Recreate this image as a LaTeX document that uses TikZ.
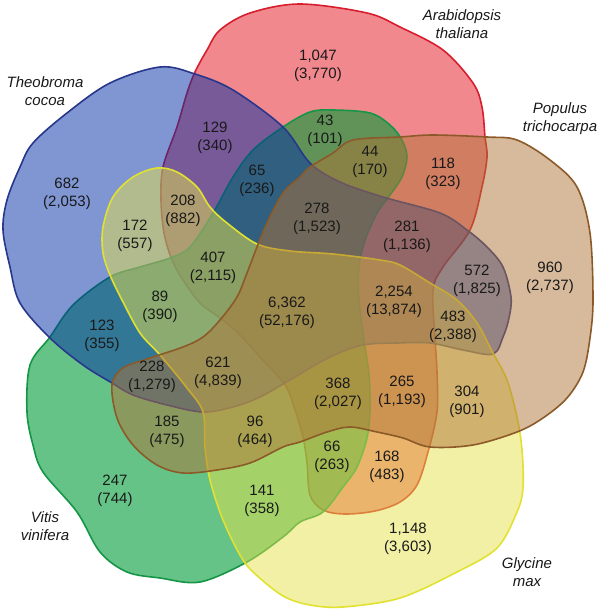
\documentclass[tikz,border=0pt]{standalone}
\usepackage{fontspec}
\setmainfont{Liberation Sans}
\definecolor{arafill}{RGB}{228,18,30}
\definecolor{araline}{RGB}{215,30,45}
\definecolor{theofill}{RGB}{0,45,165}
\definecolor{theoline}{RGB}{40,55,140}
\definecolor{vitfill}{RGB}{0,155,55}
\definecolor{vitline}{RGB}{20,150,70}
\definecolor{glyfill}{RGB}{229,225,75}
\definecolor{glyline}{RGB}{225,225,50}
\definecolor{popfill}{RGB}{175,115,55}
\definecolor{popline}{RGB}{140,90,40}
\begin{document}
\begin{tikzpicture}[x=1pt, y=-1pt,
  setshape/.style={line width=1.6pt, line join=round},
  count/.style={align=center, text=black!90, font=\fontsize{15}{18}\selectfont},
  species/.style={align=center, text=black!90, font=\fontsize{15}{18}\selectfont\itshape}]
  \useasboundingbox (0,0) rectangle (600,610);

  % Sets (bottom to top)
  \draw[setshape, draw=araline, fill=arafill, fill opacity=0.5] plot[smooth cycle, tension=0.55] coordinates {
    (163,167) (177,127) (187,93) (195,72) (207,50) (220,30) (250,13) (300,4) (367,13) (400,27) (443,50) (473,83) (482,107) (485,137) (487,157) (482,187) (470,230) (443,267) (433,290) (435,338) (437,372) (437,412) (428,452) (417,485) (400,502) (375,511) (345,514) (323,510) (310,495) (307,463) (303,437) (295,410) (285,385) (260,357) (237,332) (220,318) (200,303) (183,280) (172,260) (164,233) (161,200)};
  \draw[setshape, draw=vitline, fill=vitfill, fill opacity=0.6] plot[smooth cycle, tension=0.55] coordinates {
    (283,127) (310,112) (333,110) (370,113) (390,125) (402,140) (407,157) (402,177) (390,195) (377,213) (365,240) (359,267) (359,300) (364,340) (369,375) (370,410) (367,438) (357,467) (343,487) (323,512) (300,522) (283,537) (247,562) (200,582) (160,578) (127,572) (100,552) (77,512) (43,472) (33,445) (27,412) (30,365) (50,337) (73,305) (110,277) (140,267) (170,258) (190,247) (213,213) (233,177) (253,150)};
  \draw[setshape, draw=theoline, fill=theofill, fill opacity=0.5] plot[smooth cycle, tension=0.55] coordinates {
    (160,67) (195,74) (233,90) (283,127) (310,163) (340,182) (383,197) (440,213) (467,230) (487,247) (503,267) (511,297) (509,318) (503,337) (493,354) (463,350) (430,343) (397,343) (363,345) (330,357) (290,380) (260,397) (233,407) (203,412) (167,405) (133,395) (112,383) (83,365) (50,338) (20,303) (10,267) (3,230) (7,200) (20,167) (33,143) (67,113) (110,83)};
  \draw[setshape, draw=glyline, fill=glyfill, fill opacity=0.5] plot[smooth cycle, tension=0.55] coordinates {
    (157,168) (177,172) (197,187) (210,207) (227,223) (257,244) (290,251) (333,254) (380,260) (400,265) (430,283) (457,300) (477,323) (493,353) (507,380) (517,417) (522,450) (523,488) (517,512) (497,548) (457,572) (400,598) (343,607) (310,605) (285,597) (262,580) (243,560) (223,520) (210,480) (205,447) (203,412) (187,388) (160,355) (140,333) (122,300) (110,275) (103,253) (103,227) (113,197) (133,177)};
  \draw[setshape, draw=popline, fill=popfill, fill opacity=0.5] plot[smooth cycle, tension=0.55] coordinates {
    (257,247) (267,223) (283,193) (300,177) (310,167) (333,153) (353,140) (400,137) (433,135) (487,137) (517,140) (550,160) (577,187) (590,233) (593,300) (590,338) (583,372) (567,398) (543,418) (517,432) (473,445) (430,447) (403,438) (377,432) (350,427) (327,432) (300,442) (283,447) (250,463) (217,470) (183,473) (157,465) (133,445) (117,418) (112,385) (123,368) (150,358) (183,347) (203,337) (220,320) (237,297) (247,273)};

  % Species names
  \node[species] (ara) at (462,24) {Arabidopsis\\thaliana};
  \node[species] (theo) at (45,91) {Theobroma\\cocoa};
  \node[species] (pop) at (560,119) {Populus\\trichocarpa};
  \node[species] (vit) at (45,526) {Vitis\\vinifera};
  \node[species] (gly) at (527,572) {Glycine\\max};

  % Counts
  \node[count] (A) at (318,66) {1,047\\(3,770)};
  \node[count] (T) at (67,194) {682\\(2,053)};
  \node[count] (P) at (550,278) {960\\(2,737)};
  \node[count] (V) at (115,491) {247\\(744)};
  \node[count] (G) at (408,539) {1,148\\(3,603)};
  \node[count] (AT) at (215,138) {129\\(340)};
  \node[count] (ATV) at (257,181) {65\\(236)};
  \node[count] (AV) at (325,131) {43\\(101)};
  \node[count] (AVP) at (370,162) {44\\(170)};
  \node[count] (AP) at (443,174) {118\\(323)};
  \node[count] (ATG) at (183,211) {208\\(882)};
  \node[count] (TG) at (135,236) {172\\(557)};
  \node[count] (ATVP) at (317,219) {278\\(1,523)};
  \node[count] (ATP) at (407,237) {281\\(1,136)};
  \node[count] (TP) at (477,281) {572\\(1,825)};
  \node[count] (ATVG) at (213,268) {407\\(2,115)};
  \node[count] (TVG) at (160,307) {89\\(390)};
  \node[count] (ATPVG) at (287,313) {6,362\\(52,176)};
  \node[count] (ATPG) at (394,302) {2,254\\(13,874)};
  \node[count] (TPG) at (453,327) {483\\(2,388)};
  \node[count] (TV) at (102,336) {123\\(355)};
  \node[count] (TVP) at (152,377) {228\\(1,279)};
  \node[count] (TVPG) at (218,373) {621\\(4,839)};
  \node[count] (AVPG) at (338,394) {368\\(2,027)};
  \node[count] (APG) at (402,392) {265\\(1,193)};
  \node[count] (PG) at (467,402) {304\\(901)};
  \node[count] (VP) at (167,432) {185\\(475)};
  \node[count] (VPG) at (255,432) {96\\(464)};
  \node[count] (AVG) at (332,457) {66\\(263)};
  \node[count] (AG) at (387,467) {168\\(483)};
  \node[count] (VG) at (262,501) {141\\(358)};
\end{tikzpicture}
\end{document}
